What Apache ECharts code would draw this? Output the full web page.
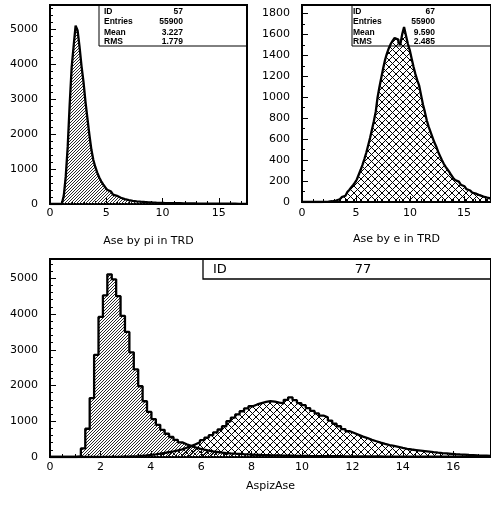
<!DOCTYPE html>
<html>
<head>
<meta charset="utf-8">
<script src="https://cdn.jsdelivr.net/npm/echarts@6/dist/echarts.min.js"></script>
<style>
html,body{margin:0;padding:0;background:#fff;}
#chart{width:491px;height:505px;}
</style>
</head>
<body>
<div id="chart"></div>
<script>
// ---- data (100 bins of width 0.175 from 0 to 17.5) ----
const binWidth = 0.175;
const piCounts = [
  0,0,0,0,0,0,20,240,790,1650,
  2860,3920,4520,5110,4970,4500,3950,3500,2930,2450,
  1980,1560,1260,1060,900,760,650,560,480,410,
  355,310,270,235,205,180,158,140,125,110,
  100,92,85,78,72,67,62,57,53,49,
  46,43,40,38,36,34,32,30,28,27,
  26,25,24,23,22,21,20,19,18,17,
  16,16,15,14,14,13,13,12,12,11,
  11,10,10,10,9,9,9,8,8,8,
  7,7,7,7,6,6,6,6,5,5
];
const eCounts = [
  0,0,0,0,0,0,0,0,0,0,
  0,1,2,3,5,7,10,14,19,26,
  35,46,60,76,95,115,138,160,185,215,
  260,305,355,410,470,540,610,690,770,860,
  1000,1100,1190,1280,1360,1420,1470,1510,1540,1565,
  1550,1520,1500,1600,1670,1590,1510,1450,1370,1290,
  1220,1160,1110,1020,930,860,780,720,670,620,
  570,530,480,440,400,365,335,310,285,255,
  230,210,195,180,165,150,135,122,110,100,
  90,80,72,65,58,52,46,41,37,33
];
const statsPi = [["ID","57"],["Entries","55900"],["Mean","3.227"],["RMS","1.779"]];
const statsE  = [["ID","67"],["Entries","55900"],["Mean","9.590"],["RMS","2.485"]];
const titleTopLeft = "Ase by pi in TRD";
const titleTopRight = "Ase by e in TRD";
const titleBottom = "AspizAse";
const bottomId = "77";

function stepData(counts){
  const d = counts.map((c,k)=>[+(k*binWidth).toFixed(4), c]);
  d.push([+(counts.length*binWidth).toFixed(4), counts[counts.length-1]]);
  return d;
}

function makePattern(kind){
  const s = kind === 'cross' ? 7 : 3;
  const c = document.createElement('canvas');
  c.width = s; c.height = s;
  const g = c.getContext('2d');
  g.fillStyle = kind === 'cross' ? '#000' : '#2a2a2a';
  for(let x=0;x<s;x++){
    for(let y=0;y<s;y++){
      if(kind==='cross'){
        if((x+y)%s===0 || ((x-y)%s+s)%s===0) g.fillRect(x,y,1,1);
      } else {
        if((x+y)%s===0) g.fillRect(x,y,1,1);
      }
    }
  }
  return c;
}
const hatch = makePattern('hatch');
const cross = makePattern('cross');

const FONT = 'DejaVu Sans';
const plain = v => String(v);
function xAxis(gi, interval, split, name, margin, gap){
  return {
    type:'value', gridIndex:gi, min:0, max:17.5, interval:interval,
    name:name, nameLocation:'middle', nameGap:gap,
    nameTextStyle:{fontFamily:FONT,fontSize:11,color:'#000'},
    axisLine:{show:true,lineStyle:{color:'#000',width:2}},
    axisTick:{show:true,inside:true,length:6,lineStyle:{color:'#000'}},
    minorTick:{show:true,splitNumber:split,length:3,lineStyle:{color:'#000'}},
    axisLabel:{fontFamily:FONT,fontSize:11,color:'#000',margin:margin,showMaxLabel:false,formatter:plain},
    splitLine:{show:false}
  };
}
function yAxis(gi, max, interval, split){
  return {
    type:'value', gridIndex:gi, min:0, max:max, interval:interval,
    axisLine:{show:true,lineStyle:{color:'#000',width:2}},
    axisTick:{show:true,inside:true,length:6,lineStyle:{color:'#000'}},
    minorTick:{show:true,splitNumber:split,length:3,lineStyle:{color:'#000'}},
    axisLabel:{fontFamily:FONT,fontSize:11,color:'#000',margin:12,showMaxLabel:false,formatter:plain},
    splitLine:{show:false}
  };
}
function histSeries(xi, counts, pattern){
  return {
    type:'line', xAxisIndex:xi, yAxisIndex:xi, step:'end',
    data:stepData(counts), symbol:'none', silent:true, z:3,
    lineStyle:{color:'#000',width:2.3},
    areaStyle:{color:{image:pattern,repeat:'repeat'},opacity:1}
  };
}
function statTexts(stats, textLeft, valueRight){
  const ys = [11.7, 21.7, 32.3, 41.7];
  const els = [];
  stats.forEach((r,i)=>{
    els.push({type:'text', z:0, silent:true, x:textLeft, y:ys[i],
      style:{text:r[0], fontFamily:'Liberation Sans', fontSize:8.5, fontWeight:'bold', fill:'#000', align:'left', verticalAlign:'middle'}});
    els.push({type:'text', z:0, silent:true, x:valueRight, y:ys[i],
      style:{text:r[1], fontFamily:'Liberation Sans', fontSize:8.5, fontWeight:'bold', fill:'#000', align:'right', verticalAlign:'middle'}});
  });
  return els;
}

const chart = echarts.init(document.getElementById('chart'), null, {renderer:'canvas'});
const graphics = [].concat(
  [{type:'rect', z:0, silent:true, shape:{x:99,y:5,width:148,height:41}, style:{fill:null,stroke:'#000',lineWidth:1}}],
  statTexts(statsPi, 104, 183),
  [{type:'rect', z:0, silent:true, shape:{x:352,y:5,width:200,height:41}, style:{fill:null,stroke:'#000',lineWidth:1}}],
  statTexts(statsE, 353, 435),
  [{type:'rect', z:0, silent:true, shape:{x:203,y:259,width:320,height:20}, style:{fill:null,stroke:'#000',lineWidth:1.3}}],
  [{type:'text', z:0, silent:true, x:213, y:270, style:{text:'ID', fontFamily:FONT, fontSize:13, fill:'#000', align:'left', verticalAlign:'middle'}},
   {type:'text', z:0, silent:true, x:363, y:270, style:{text:bottomId, fontFamily:FONT, fontSize:13, fill:'#000', align:'center', verticalAlign:'middle'}}]
);

chart.setOption({
  animation:false,
  backgroundColor:'#fff',
  grid:[
    {left:50, top:5, width:197, height:199, show:true, borderColor:'#000', borderWidth:2, containLabel:false},
    {left:302, top:5, width:197, height:197, show:true, borderColor:'#000', borderWidth:2, containLabel:false},
    {left:50, top:259, width:448, height:198, show:true, borderColor:'#000', borderWidth:2, containLabel:false}
  ],
  xAxis:[
    xAxis(0, 5, 5, titleTopLeft, 4, 32),
    xAxis(1, 5, 5, titleTopRight, 6, 32),
    xAxis(2, 2, 4, titleBottom, 5, 24)
  ],
  yAxis:[
    yAxis(0, 5700, 1000, 5),
    yAxis(1, 1880, 200, 2),
    yAxis(2, 5540, 1000, 5)
  ],
  graphic:graphics,
  series:[
    histSeries(0, piCounts, hatch),
    histSeries(1, eCounts, cross),
    histSeries(2, eCounts, cross),
    histSeries(2, piCounts, hatch)
  ]
});
</script>
</body>
</html>
